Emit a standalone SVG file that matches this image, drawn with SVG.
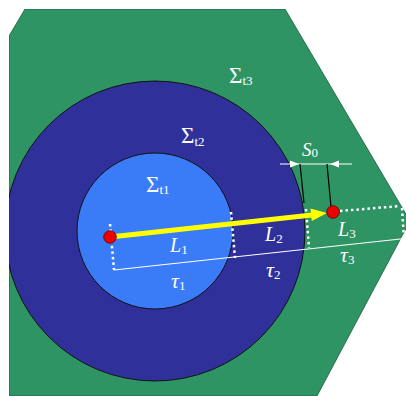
<svg xmlns="http://www.w3.org/2000/svg" width="406" height="396" viewBox="0 0 406 396">
<style>
.lbl{font-family:"Liberation Serif","DejaVu Serif",serif;fill:#fff}
.it{font-style:italic}
.sub{font-size:13px;font-style:normal}
.dot{fill:none;stroke:#fff;stroke-width:2.5;stroke-dasharray:2.5 3}
.blk{stroke:#000;stroke-width:1.2;fill:none}
.red{fill:#e00;stroke:#600;stroke-width:0.8}
</style>
<defs>
<clipPath id="frame"><rect x="9" y="9" width="397" height="387"/></clipPath>
</defs>
<rect width="406" height="396" fill="#fff"/>
<g clip-path="url(#frame)">
<g id="region-t3">
<polygon points="25,9 285,9 410,221 317,396 9,396 9,36" fill="#2e9463" stroke="#1a5a3a" stroke-width="0.8"/>
</g>
<g id="region-t2">
<circle cx="155" cy="231" r="150" fill="#30309a" stroke="#111" stroke-width="1"/>
</g>
<g id="region-t1">
<circle cx="155" cy="231" r="78" fill="#3a7bf8" stroke="#111" stroke-width="1"/>
</g>
</g>
<g id="labels">
<text class="lbl" x="229" y="83" font-size="23">Σ<tspan class="sub" dy="2">t3</tspan></text>
<text class="lbl" x="181" y="143" font-size="23">Σ<tspan class="sub" dy="3">t2</tspan></text>
<text class="lbl" x="146" y="192" font-size="23">Σ<tspan class="sub" dy="2">t1</tspan></text>
</g>
<g id="connectors">
<line class="dot" x1="110" y1="224" x2="114" y2="270"/>
<line class="dot" x1="231" y1="212" x2="235" y2="258"/>
<line class="dot" x1="306" y1="209" x2="309" y2="248"/>
<line class="dot" x1="340" y1="211" x2="400" y2="206"/>
<line class="dot" x1="402" y1="208" x2="404" y2="239"/>
<line x1="114" y1="270" x2="405" y2="238.5" stroke="#fff" stroke-width="1.2"/>
<line x1="110" y1="237" x2="312" y2="215" stroke="#ffff00" stroke-width="5"/>
<polygon points="327,213 311.8,221 310.4,208.6" fill="#ffff00"/>
<line x1="280" y1="164" x2="352" y2="164" stroke="#fff" stroke-width="1.2"/>
<polygon points="299,164 290,160.5 290,167.5" fill="#fff"/>
<polygon points="330,164 339,160.5 339,167.5" fill="#fff"/>
<line class="blk" x1="300" y1="164" x2="304" y2="203"/>
<line class="blk" x1="327" y1="164" x2="331" y2="207"/>
</g>
<g id="points">
<circle class="red" cx="110" cy="237" r="6.3"/>
<circle class="red" cx="333" cy="212" r="6.3"/>
</g>
<g id="dim-labels">
<text class="lbl it" x="302" y="156" font-size="19">S<tspan class="sub" dy="1">0</tspan></text>
<text class="lbl it" x="170" y="252" font-size="20">L<tspan class="sub" dy="2">1</tspan></text>
<text class="lbl it" x="265" y="241" font-size="20">L<tspan class="sub" dy="2">2</tspan></text>
<text class="lbl it" x="338" y="236" font-size="20">L<tspan class="sub" dy="2">3</tspan></text>
<text class="lbl it" x="171" y="288" font-size="22">τ<tspan class="sub" dy="2">1</tspan></text>
<text class="lbl it" x="266" y="277" font-size="22">τ<tspan class="sub" dy="2">2</tspan></text>
<text class="lbl it" x="340" y="262" font-size="22">τ<tspan class="sub" dy="2">3</tspan></text>
</g>
</svg>
